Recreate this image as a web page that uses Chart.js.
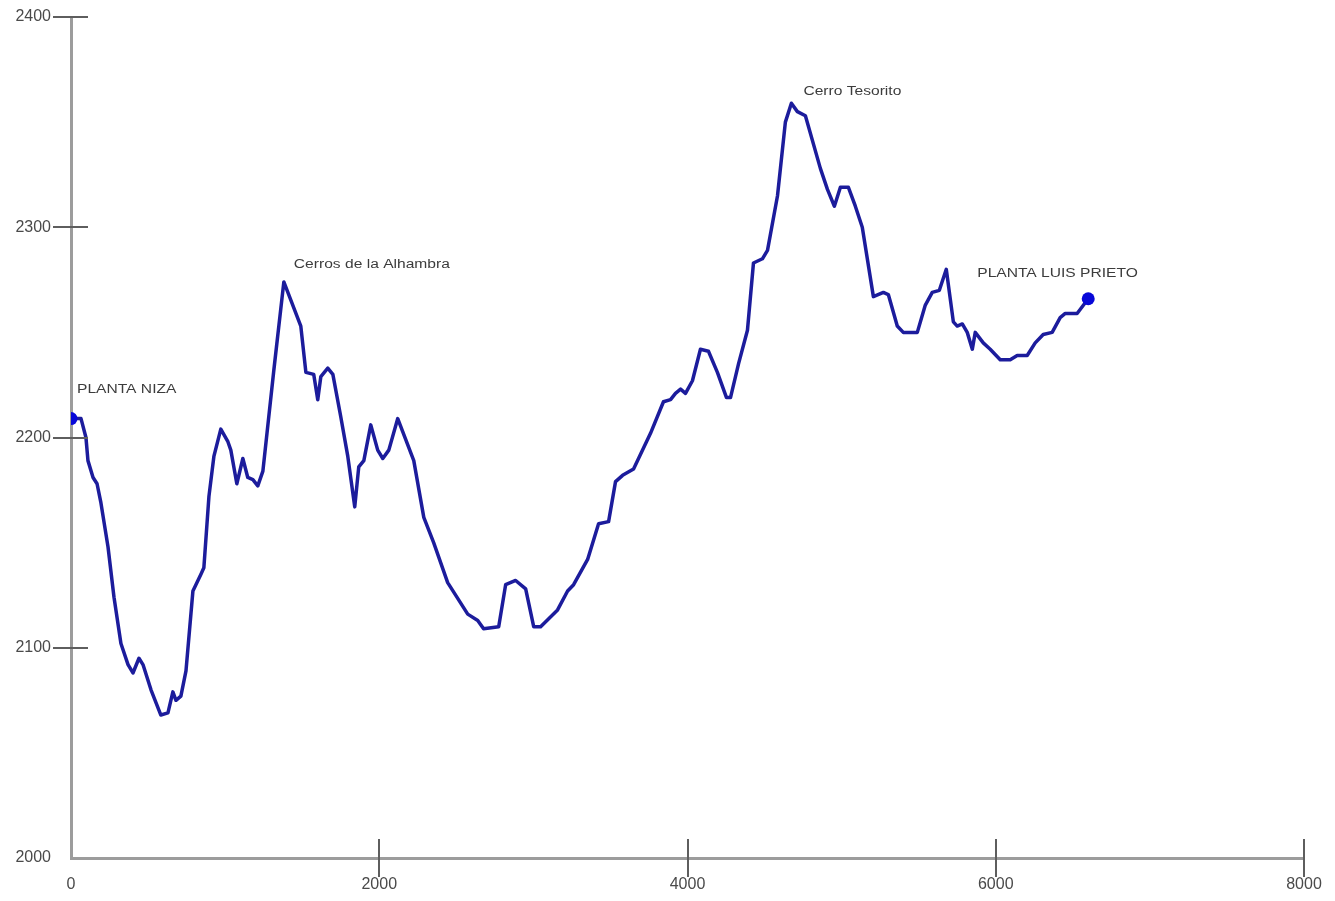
<!DOCTYPE html>
<html>
<head>
<meta charset="utf-8">
<title>Perfil de elevación</title>
<script src="https://cdn.jsdelivr.net/npm/chart.js@4.4.1/dist/chart.umd.min.js"></script>
<style>
  html, body { margin: 0; padding: 0; background: #ffffff; }
  #wrap { width: 1335px; height: 901px; }
</style>
</head>
<body>
<div id="wrap"><canvas id="profile" width="1335" height="901"></canvas></div>
<script>
// Distance along the route (m) and elevation (m)
const distance = [
  0, 65, 97, 110, 143, 169, 194, 240, 279, 324,
  370, 402, 441, 467, 519, 583, 629, 661, 681, 713,
  746, 791, 843, 862, 895, 927, 972, 1018, 1037, 1076,
  1115, 1147, 1180, 1212, 1245, 1316, 1381, 1491, 1524, 1575,
  1601, 1621, 1666, 1699, 1750, 1796, 1841, 1867, 1900, 1945,
  1990, 2023, 2062, 2120, 2172, 2224, 2289, 2353, 2444, 2574,
  2639, 2677, 2775, 2820, 2885, 2950, 3002, 3047, 3157, 3222,
  3261, 3352, 3423, 3488, 3533, 3579, 3650, 3760, 3844, 3890,
  3922, 3955, 3987, 4032, 4084, 4136, 4194, 4253, 4279, 4331,
  4389, 4428, 4486, 4519, 4584, 4635, 4674, 4713, 4765, 4862,
  4908, 4953, 4992, 5044, 5089, 5134, 5206, 5271, 5303, 5361,
  5400, 5491, 5543, 5588, 5634, 5679, 5725, 5750, 5783, 5815,
  5848, 5867, 5919, 5964, 6029, 6094, 6139, 6204, 6256, 6308,
  6366, 6418, 6451, 6528, 6600
];
const elevation = [
  2209, 2209, 2200, 2189, 2181, 2178, 2169, 2148, 2124, 2102,
  2092, 2088, 2095, 2092, 2080, 2068, 2069, 2079, 2075, 2077,
  2089, 2127, 2135, 2138, 2172, 2191, 2204, 2198, 2194, 2178,
  2190, 2181, 2180, 2177, 2184, 2232, 2274, 2253, 2231, 2230,
  2218, 2229, 2233, 2230, 2210, 2191, 2167, 2186, 2189, 2206,
  2194, 2190, 2194, 2209, 2199, 2189, 2162, 2150, 2131, 2116,
  2113, 2109, 2110, 2130, 2132, 2128, 2110, 2110, 2118, 2127,
  2130, 2142, 2159, 2160, 2179, 2182, 2185, 2202, 2217, 2218,
  2221, 2223, 2221, 2227, 2242, 2241, 2231, 2219, 2219, 2235,
  2251, 2283, 2285, 2289, 2315, 2350, 2359, 2355, 2353, 2328,
  2318, 2310, 2319, 2319, 2310, 2300, 2267, 2269, 2268, 2253,
  2250, 2250, 2263, 2269, 2270, 2280, 2255, 2253, 2254, 2250,
  2242, 2250, 2245, 2242, 2237, 2237, 2239, 2239, 2245, 2249,
  2250, 2257, 2259, 2259, 2266
];

// Axis tick values
const xTicks = [0, 2000, 4000, 6000, 8000];
const yTicks = [2000, 2100, 2200, 2300, 2400];

// Named places along the route (distance where each one sits)
const placeNames = ['PLANTA NIZA', 'Cerros de la Alhambra', 'Cerro Tesorito', 'PLANTA LUIS PRIETO'];
const placeDistance = [0, 1381, 4674, 6600];

// Text offsets (px) of each place name from its point on the line
const placeOffsets = [[6, -29], [10, -17], [12, -12], [-111, -25]];

const points = distance.map((d, i) => ({ x: d, y: elevation[i] }));
const lastIndex = points.length - 1;

// Tick marks that cross the axis lines, plus the place names
const profileDecor = {
  id: 'profileDecor',
  afterDraw(chart) {
    const ctx = chart.ctx;
    const xs = chart.scales.x;
    const ys = chart.scales.y;
    const area = chart.chartArea;
    ctx.save();
    ctx.strokeStyle = '#5e5e5e';
    ctx.lineWidth = 2;
    ctx.beginPath();
    yTicks.forEach(v => {
      if (v === ys.min) return;
      const py = Math.round(ys.getPixelForValue(v));
      ctx.moveTo(area.left - 18, py);
      ctx.lineTo(area.left + 17, py);
    });
    xTicks.forEach(v => {
      if (v === xs.min) return;
      const px = Math.round(xs.getPixelForValue(v));
      ctx.moveTo(px, area.bottom - 19);
      ctx.lineTo(px, area.bottom + 19);
    });
    ctx.stroke();

    ctx.fillStyle = '#3c3c3c';
    ctx.font = '12px "Liberation Sans", Arial, sans-serif';
    ctx.textBaseline = 'middle';
    ctx.textAlign = 'left';
    placeNames.forEach((name, i) => {
      const idx = distance.indexOf(placeDistance[i]);
      const px = xs.getPixelForValue(distance[idx]);
      const py = ys.getPixelForValue(elevation[idx]);
      ctx.save();
      ctx.translate(px + placeOffsets[i][0], py + placeOffsets[i][1]);
      ctx.scale(1.3, 1);
      ctx.fillText(name, 0, 0);
      ctx.restore();
    });
    ctx.restore();
  }
};

const tickFont = { family: '"Liberation Sans", Arial, sans-serif', size: 16 };

new Chart(document.getElementById('profile'), {
  type: 'line',
  data: {
    datasets: [{
      data: points,
      borderColor: '#1c1c9c',
      borderWidth: 3.5,
      borderJoinStyle: 'round',
      borderCapStyle: 'round',
      tension: 0,
      fill: false,
      pointRadius: points.map((p, i) => (i === 0 || i === lastIndex) ? 6.5 : 0),
      pointBackgroundColor: '#0808d8',
      pointBorderColor: '#0808d8',
      pointBorderWidth: 0,
      pointHoverRadius: 0
    }]
  },
  options: {
    responsive: false,
    devicePixelRatio: 1,
    animation: false,
    events: [],
    layout: { padding: { top: 17, right: 31, left: 0, bottom: 0 } },
    plugins: {
      legend: { display: false },
      tooltip: { enabled: false },
      title: { display: false }
    },
    scales: {
      x: {
        type: 'linear',
        min: 0,
        max: 8000,
        afterFit(scale) {
          scale.height = 43;
          scale.paddingLeft = 0;
          scale.paddingRight = 0;
        },
        afterBuildTicks(scale) { scale.ticks = xTicks.map(v => ({ value: v })); },
        grid: { display: false, drawTicks: false },
        border: { display: true, color: '#9c9c9c', width: 3 },
        ticks: {
          padding: 17,
          color: '#4a4a4a',
          font: tickFont,
          maxRotation: 0,
          callback: v => String(v)
        }
      },
      y: {
        type: 'linear',
        min: 2000,
        max: 2400,
        afterFit(scale) {
          scale.width = 71;
          scale.paddingTop = 0;
          scale.paddingBottom = 0;
        },
        afterBuildTicks(scale) { scale.ticks = yTicks.map(v => ({ value: v })); },
        grid: { display: false, drawTicks: false },
        border: { display: true, color: '#9c9c9c', width: 3 },
        ticks: {
          padding: 20,
          color: '#4a4a4a',
          font: tickFont,
          callback: v => String(v)
        }
      }
    }
  },
  plugins: [profileDecor]
});
</script>
</body>
</html>
